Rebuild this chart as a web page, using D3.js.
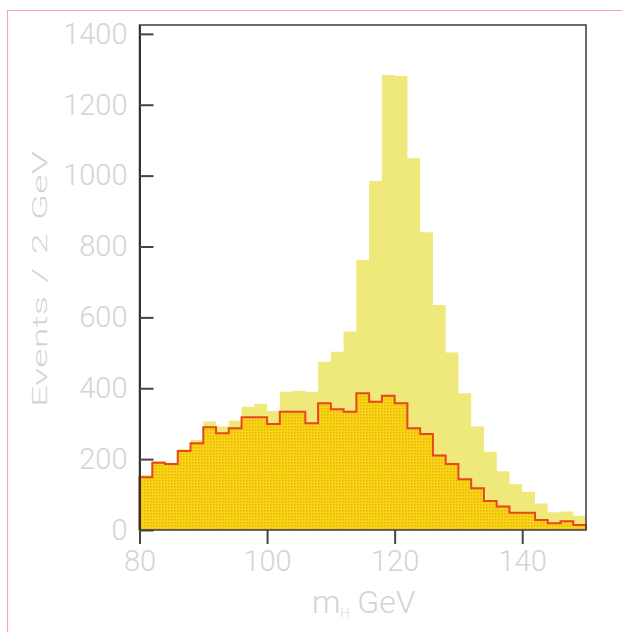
<!DOCTYPE html>
<html>
<head>
<meta charset="utf-8">
<script src="https://cdn.jsdelivr.net/npm/d3@7"></script>
<style>
  html, body { margin: 0; padding: 0; background: #fff; }
  svg { display: block; }
  .lbl { font-family: Roboto, "Liberation Sans", sans-serif; font-weight: 300; fill: #d4d4d4; }
</style>
</head>
<body>
<svg id="chart" width="622" height="632"></svg>
<script>
// Bin lower edges (GeV), 2 GeV wide
const binEdges = [80, 82, 84, 86, 88, 90, 92, 94, 96, 98, 100, 102, 104, 106, 108, 110, 112, 114,
                  116, 118, 120, 122, 124, 126, 128, 130, 132, 134, 136, 138, 140, 142, 144, 146, 148];
const binWidth = 2;

// Signal + background (total)
const totalCounts = [155, 195, 190, 228, 254, 306, 292, 308, 348, 356, 336, 390, 393, 390, 475, 503, 560, 762,
                     985, 1284, 1281, 1049, 840, 635, 501, 386, 292, 221, 166, 129, 108, 75, 50, 52, 40];

// Background only
const bkgCounts = [149, 190, 186, 223, 245, 290, 273, 287, 318, 318, 299, 334, 334, 301, 358, 341, 334, 386,
                   362, 379, 358, 287, 271, 210, 186, 143, 118, 82, 66, 49, 49, 28, 19, 25, 14];

const xTicks = [80, 100, 120, 140];
const yTicks = [0, 200, 400, 600, 800, 1000, 1200, 1400];
const xTitle = "m";
const xTitleSub = "H";
const xTitleUnit = " GeV";
const yTitle = "Events / 2 GeV";

const svg = d3.select("#chart");

// page border
svg.append("path")
  .attr("d", "M7.5,640 V10.5 H630")
  .attr("fill", "none")
  .attr("stroke", "#f2a3b5")
  .attr("stroke-width", 1.2);

const plotL = 139.5, plotR = 586, plotT = 25, plotB = 530;
const x = d3.scaleLinear().domain([80, 150]).range([plotL, plotR]);
const y = d3.scaleLinear().domain([0, 1425]).range([plotB, plotT]);

// fine orange dot grid for the background histogram
const defs = svg.append("defs");
const pat = defs.append("pattern")
  .attr("id", "hatch")
  .attr("patternUnits", "userSpaceOnUse")
  .attr("width", 3).attr("height", 3);
pat.append("rect").attr("width", 3).attr("height", 3).attr("fill", "#f7d80c");
pat.append("rect").attr("width", 1.5).attr("height", 1.5).attr("fill", "#f0aa2a");

function stepPoints(counts) {
  const pts = [[binEdges[0], 0]];
  counts.forEach((c, i) => {
    pts.push([binEdges[i], c]);
    pts.push([binEdges[i] + binWidth, c]);
  });
  pts.push([binEdges[binEdges.length - 1] + binWidth, 0]);
  return pts;
}

const line = d3.line().x(d => x(d[0])).y(d => y(d[1]));

// total histogram
svg.append("path")
  .attr("d", line(stepPoints(totalCounts)) + "Z")
  .attr("fill", "#eee97a")
  .attr("stroke", "none");

// background histogram
svg.append("path")
  .attr("d", line(stepPoints(bkgCounts)) + "Z")
  .attr("fill", "url(#hatch)")
  .attr("stroke", "none");
svg.append("path")
  .attr("d", line(stepPoints(bkgCounts)))
  .attr("fill", "none")
  .attr("stroke", "#e8461c")
  .attr("stroke-width", 2)
  .attr("stroke-linejoin", "miter");

// frame
svg.append("rect")
  .attr("x", plotL).attr("y", plotT)
  .attr("width", plotR - plotL).attr("height", plotB - plotT)
  .attr("fill", "none")
  .attr("stroke", "#3a3a3a")
  .attr("stroke-width", 1.5);

// y axis, ticks inward
const yAxis = svg.append("g")
  .attr("transform", `translate(${plotL},0)`)
  .call(d3.axisLeft(y).tickValues(yTicks).tickFormat(d3.format("d"))
    .tickSizeInner(-14).tickSizeOuter(0).tickPadding(12));
yAxis.select(".domain").attr("stroke", "#333").attr("stroke-width", 2);
yAxis.selectAll(".tick line").attr("stroke", "#444").attr("stroke-width", 2);
yAxis.selectAll(".tick text").attr("class", "lbl").style("font-size", "29px");

// x axis, ticks outward
const xAxis = svg.append("g")
  .attr("transform", `translate(0,${plotB})`)
  .call(d3.axisBottom(x).tickValues(xTicks).tickFormat(d3.format("d"))
    .tickSizeInner(14).tickSizeOuter(0).tickPadding(6));
xAxis.select(".domain").remove();
xAxis.selectAll(".tick line").attr("stroke", "#444").attr("stroke-width", 2);
xAxis.selectAll(".tick text").attr("class", "lbl").style("font-size", "29px");

// axis titles
const xt = svg.append("text")
  .attr("class", "lbl")
  .attr("x", (plotL + plotR) / 2 + 1)
  .attr("y", 613)
  .attr("text-anchor", "middle")
  .style("font-size", "32px");
xt.append("tspan").text(xTitle);
xt.append("tspan").text(xTitleSub).style("font-size", "13px").attr("dy", 4);
xt.append("tspan").text(xTitleUnit).attr("dy", -4);

svg.append("text")
  .attr("class", "lbl")
  .attr("transform", "translate(47,279) rotate(-90) scale(1,0.55)")
  .attr("text-anchor", "middle")
  .style("font-size", "38px")
  .style("word-spacing", "4px")
  .text(yTitle);
</script>
</body>
</html>
